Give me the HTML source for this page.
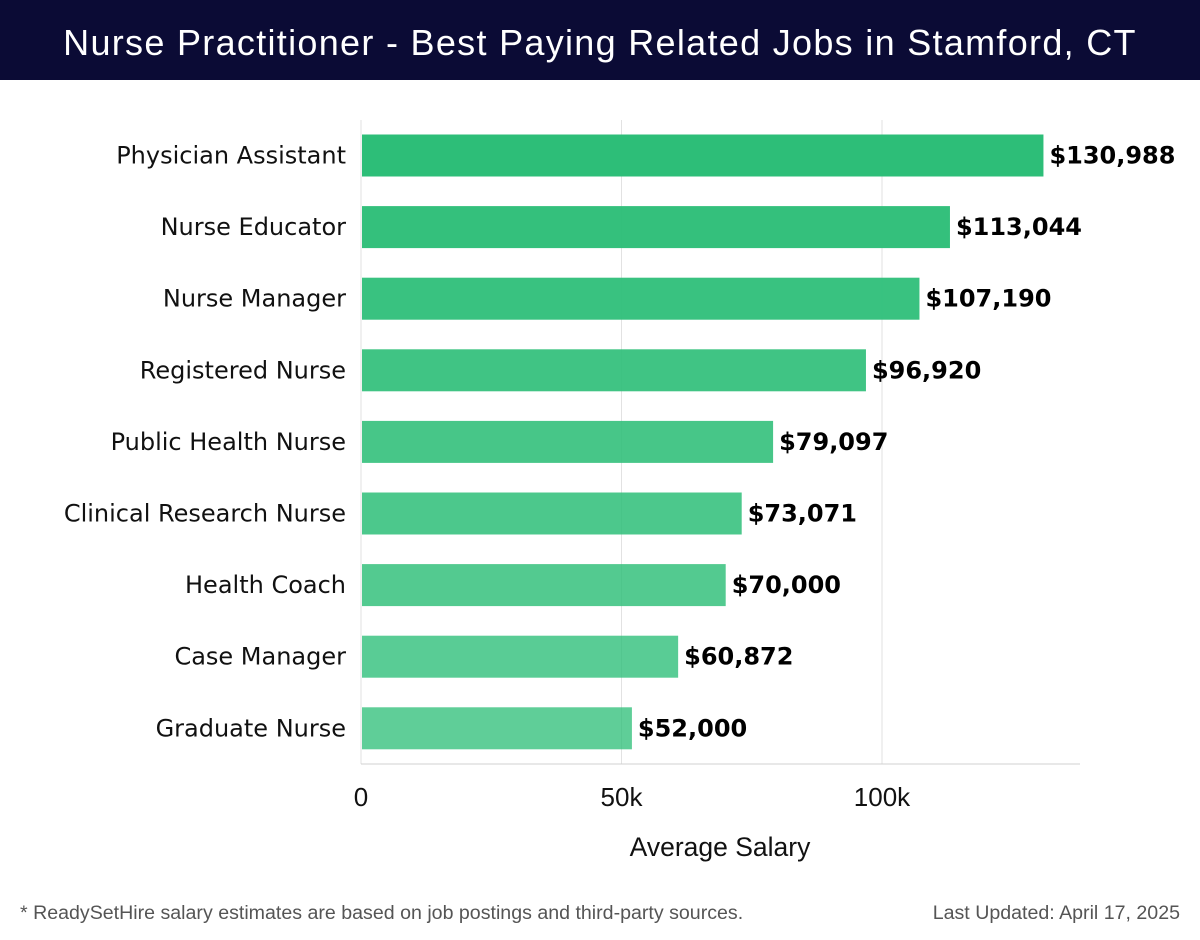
<!DOCTYPE html>
<html><head><meta charset="utf-8"><style>
body{margin:0;width:1200px;height:940px;background:#fff;font-family:"Liberation Sans","DejaVu Sans",sans-serif;overflow:hidden}
#hdr{position:absolute;left:0;top:0;width:1200px;height:80px;background:#0b0b35;color:#fff;font-size:36px;letter-spacing:1.3px;text-align:center;line-height:86px}
</style></head><body>
<div id="hdr">Nurse Practitioner - Best Paying Related Jobs in Stamford, CT</div>
<svg id="chart" width="1200" height="940" style="position:absolute;left:0;top:0"></svg>
<script>
const categories=["Physician Assistant","Nurse Educator","Nurse Manager","Registered Nurse","Public Health Nurse","Clinical Research Nurse","Health Coach","Case Manager","Graduate Nurse"];
const values=[130988,113044,107190,96920,79097,73071,70000,60872,52000];
const valueLabels=["$130,988","$113,044","$107,190","$96,920","$79,097","$73,071","$70,000","$60,872","$52,000"];
const ticks=[0,50000,100000];
const tickLabels=["0","50k","100k"];
const NS="http://www.w3.org/2000/svg";
const svg=document.getElementById('chart');
const x=v=>361+v*(521/100000);
const yc=i=>155.5+i*71.6;
function mk(t,a,txt){const e=document.createElementNS(NS,t);for(const k in a)e.setAttribute(k,a[k]);if(txt!=null)e.textContent=txt;svg.appendChild(e);return e;}
ticks.forEach((t,i)=>{
 const g=mk('line',{x1:x(t),x2:x(t),y1:120,y2:764,stroke:'#e2e2e2','stroke-width':1});
 
 
 const l=mk('text',{x:x(t),y:806,'text-anchor':'middle','font-size':26,fill:'#111'},tickLabels[i]);
 
 
});
const ax=mk('line',{x1:361,x2:1080,y1:764,y2:764,stroke:'#d0d0d0','stroke-width':1});


categories.forEach((c,i)=>{
 const op=1-i*0.03;
 const b=mk('rect',{x:x(0)+1,y:yc(i)-21,width:x(values[i])-x(0)-1,height:42,fill:'#2dbe78','fill-opacity':op});
 
 
 const l=mk('text',{x:346,y:yc(i)+8,'text-anchor':'end','font-size':24,'font-family':'DejaVu Sans, sans-serif',fill:'#111'},c);
 
 
 const v=mk('text',{x:x(values[i])+6,y:yc(i)+8,'font-size':24,'font-weight':'bold','font-family':'DejaVu Sans, sans-serif',fill:'#000'},valueLabels[i]);
 
 
});
const at=mk('text',{x:720,y:856,'text-anchor':'middle','font-size':26.5,fill:'#111'},'Average Salary');


const f1=mk('text',{x:20,y:919,'font-size':19.6,fill:'#555'},'* ReadySetHire salary estimates are based on job postings and third-party sources.');


const f2=mk('text',{x:1180,y:919,'text-anchor':'end','font-size':19.6,fill:'#555'},'Last Updated: April 17, 2025');


</script>
</body></html>
